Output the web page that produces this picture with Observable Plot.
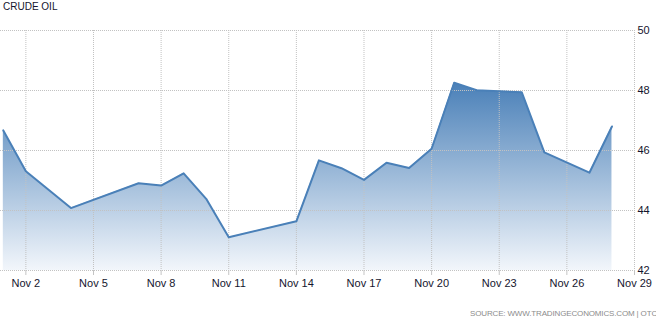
<!DOCTYPE html>
<html>
<head>
<meta charset="utf-8">
<script src="https://cdn.jsdelivr.net/npm/d3@7"></script>
<script src="https://cdn.jsdelivr.net/npm/@observablehq/plot@0.6"></script>
<style>
  body { margin: 0; background: #fff; }
  #wrap { position: relative; width: 656px; height: 326px; font-family: "Liberation Sans", Arial, sans-serif; }
  #title { position: absolute; left: 3px; top: 1px; font-size: 10px; color: #15152e; white-space: nowrap; }
  #source { position: absolute; left: 470px; top: 309px; font-size: 8px; color: #8c8c8c; white-space: nowrap; letter-spacing: -0.15px; }
</style>
</head>
<body>
<div id="wrap">
  <div id="chart"></div>
  <div id="title">CRUDE OIL</div>
  <div id="source">SOURCE: WWW.TRADINGECONOMICS.COM | OTC</div>
</div>
<script>
// Daily crude oil closing prices, November
const dates = [
  "2016-11-01", "2016-11-02", "2016-11-04", "2016-11-07", "2016-11-08",
  "2016-11-09", "2016-11-10", "2016-11-11", "2016-11-14", "2016-11-15",
  "2016-11-16", "2016-11-17", "2016-11-18", "2016-11-19", "2016-11-20",
  "2016-11-21", "2016-11-22", "2016-11-24", "2016-11-25", "2016-11-27",
  "2016-11-28"
];
const prices = [
  46.67, 45.31, 44.08, 44.91, 44.83,
  45.24, 44.39, 43.11, 43.64, 45.67,
  45.41, 45.02, 45.59, 45.42, 46.06,
  48.26, 48.01, 47.94, 45.94, 45.26,
  46.80
];

// Axis ticks
const xTickDates = [
  "2016-11-02", "2016-11-05", "2016-11-08", "2016-11-11", "2016-11-14",
  "2016-11-17", "2016-11-20", "2016-11-23", "2016-11-26", "2016-11-29"
];
const yTicks = [42, 44, 46, 48, 50];

const data = dates.map((d, i) => ({ date: new Date(d), price: prices[i] }));
const xTicks = xTickDates.map(d => new Date(d));

const chart = Plot.plot({
  width: 656,
  height: 326,
  marginLeft: 0,
  marginRight: 22,
  marginTop: 30,
  marginBottom: 56,
  style: { fontFamily: "'Liberation Sans', Arial, sans-serif", fontSize: "11px", color: "#15152e", background: "white" },
  x: { type: "utc", domain: [new Date(Date.UTC(2016, 9, 31, 21)), new Date("2016-11-29")] },
  y: { domain: [42, 50] },
  marks: [
    Plot.areaY(data, { x: "date", y1: 42, y2: "price", fill: "url(#oilFill)" }),
    Plot.gridX(xTicks, { stroke: "#c2c2c2", strokeOpacity: 1, strokeDasharray: "1,1" }),
    Plot.gridY(yTicks, { stroke: "#c2c2c2", strokeOpacity: 1, strokeDasharray: "1,1" }),
    Plot.lineY(data, { x: "date", y: "price", stroke: "#4a80b8", strokeWidth: 2 }),
    Plot.axisX(xTicks, {
      anchor: "bottom", tickSize: 5, tickPadding: 4, stroke: "#c4c4c4",
      tickFormat: d3.utcFormat("%b %-d"), label: null
    }),
    Plot.axisY(yTicks, { anchor: "right", tickSize: 0, tickPadding: 3, label: null })
  ]
});

// Vertical fade for the area under the price line
d3.select(chart).insert("defs", ":first-child").html(`
  <linearGradient id="oilFill" x1="0" y1="0" x2="0" y2="1">
    <stop offset="0" stop-color="#4a80b8"/>
    <stop offset="1" stop-color="#f2f6fb"/>
  </linearGradient>`);

document.getElementById("chart").append(chart);
</script>
</body>
</html>
